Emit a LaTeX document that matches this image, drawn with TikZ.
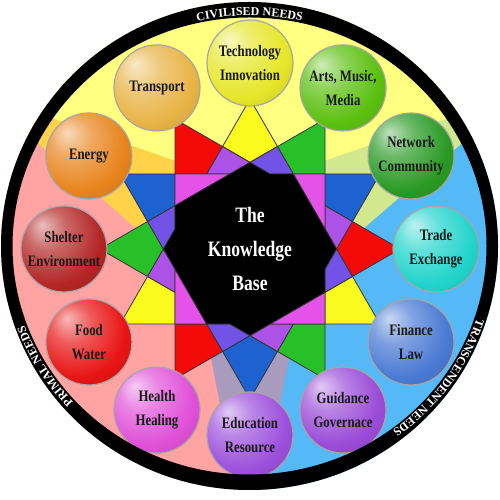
\documentclass[tikz,border=0pt]{standalone}
\usepackage{fontspec}
\setmainfont{Liberation Serif}
\newfontfamily\lblfont[FakeStretch=0.8]{Liberation Serif}
\newfontfamily\ringfont{Liberation Serif}
\usetikzlibrary{calc,decorations.text}
\definecolor{bgY}{HTML}{FFFF80}
\definecolor{bgB}{HTML}{55B9F8}
\definecolor{bgP}{HTML}{FFA3A3}
\definecolor{beamG}{HTML}{D2E88E}
\definecolor{beamO}{HTML}{FFD24A}
\definecolor{beamV}{HTML}{A99BBD}
\definecolor{tY}{HTML}{FAFA1E}
\definecolor{tG}{HTML}{28C028}
\definecolor{tB}{HTML}{1E62D0}
\definecolor{tR}{HTML}{F50A0A}
\definecolor{kP}{HTML}{AD52E6}
\definecolor{kM}{HTML}{E552EA}
\definecolor{kV}{HTML}{7352E8}
\definecolor{ballTech}{HTML}{E6E62A}
\definecolor{ballArts}{HTML}{5CC010}
\definecolor{ballNet}{HTML}{2A9A24}
\definecolor{ballTrade}{HTML}{22D4CC}
\definecolor{ballFin}{HTML}{4A7AD4}
\definecolor{ballGuid}{HTML}{9A4CD8}
\definecolor{ballEdu}{HTML}{9C50DC}
\definecolor{ballHealth}{HTML}{E050D8}
\definecolor{ballFood}{HTML}{E81414}
\definecolor{ballShelter}{HTML}{B42626}
\definecolor{ballEnergy}{HTML}{E8841C}
\definecolor{ballTrans}{HTML}{E8B446}
\colorlet{ballc}{red}
\pgfdeclareradialshading[ballc]{sphere}{\pgfpoint{-13bp}{14bp}}{color(0bp)=(ballc!30!white); color(12bp)=(ballc!70!white); color(28bp)=(ballc); color(46bp)=(ballc!82!black); color(60bp)=(ballc!72!black)}
\begin{document}
\begin{tikzpicture}[x=1pt,y=1pt,
  cell/.style={draw=black!80,line width=0.8pt,line join=round},
  ball/.style={circle,minimum size=86pt,inner sep=0pt,draw=black!35,line width=1.2pt,shade,shading=sphere,align=center,font=\lblfont\bfseries\fontsize{16}{24}\selectfont,text=black!90},
  bc/.code={\colorlet{ballc}{#1}}]
\useasboundingbox (0,0) rectangle (500,500);
\fill[white] (0,0) rectangle (500,500);
\coordinate (C) at (250,251);
\coordinate (R) at (249.5,254);
% background sectors and beams
\begin{scope}
\clip (R) ellipse (248.5 and 244);
\begin{scope}[shift={(C)}]
\fill[bgY] (0,0) -- (30:300) arc[start angle=30,end angle=150,radius=300] -- cycle;
\fill[bgP] (0,0) -- (150:300) arc[start angle=150,end angle=270,radius=300] -- cycle;
\fill[bgB] (0,0) -- (270:300) arc[start angle=270,end angle=390,radius=300] -- cycle;
\foreach \t/\c in {30/beamG,150/beamO,270/beamV}
  \fill[\c] ({\t+90}:60) -- ({\t+2.6}:252) -- ({\t-2.6}:252) -- ({\t-90}:60) -- cycle;
\end{scope}
\end{scope}
% star
\begin{scope}[shift={(C)}]
\foreach \t/\c in {0/tR,30/tB,60/tG,90/tY,120/tR,150/tB,180/tG,210/tY,240/tR,270/tB,300/tG,330/tY}
  \filldraw[cell,fill=\c] (\t:150) -- ({\t-15}:106.07) -- (\t:86.6) -- ({\t+15}:106.07) -- cycle;
\foreach \t/\c in {15/kP,105/kP,195/kP,285/kP,75/kV,165/kV,255/kV,345/kV}
  \filldraw[cell,fill=\c] (\t:77.63) -- ({\t-15}:86.6) -- (\t:106.07) -- ({\t+15}:86.6) -- cycle;
\foreach \t in {30,120,210,300}
  \filldraw[cell,fill=kM] ({\t-15}:77.63) -- ({\t+15}:106.07) -- ({\t+30}:86.6) -- cycle;
\filldraw[cell,fill=black] (90:86.6) -- (150:86.6) -- (165:77.63) -- (180:86.6) -- (240:86.6) -- (255:77.63) -- (270:86.6) -- (330:86.6) -- (345:77.63) -- (0:86.6) -- (60:86.6) -- (75:77.63) -- cycle;
\node[text=white,align=center,font=\lblfont\bfseries\fontsize{22}{34}\selectfont] (kb) at (0,0) {The\\Knowledge\\Base};
% balls
\node[ball,bc=ballTech] (tech) at (90:186) {Technology\\Innovation};
\node[ball,bc=ballArts] (arts) at (60:186) {Arts, Music,\\Media};
\node[ball,bc=ballNet] (net) at (30:186) {Network\\Community};
\node[ball,bc=ballTrade] (trade) at (0:186) {Trade\\Exchange};
\node[ball,bc=ballFin] (fin) at (-30:186) {Finance\\Law};
\node[ball,bc=ballGuid] (guid) at (-60:186) {Guidance\\Governace};
\node[ball,bc=ballEdu] (edu) at (-90:186) {Education\\Resource};
\node[ball,bc=ballHealth] (health) at (-120:186) {Health\\Healing};
\node[ball,bc=ballFood] (food) at (-150:186) {Food\\Water};
\node[ball,bc=ballShelter] (shelter) at (180:186) {Shelter\\Environment};
\node[ball,bc=ballEnergy] (energy) at (150:186) {Energy};
\node[ball,bc=ballTrans] (trans) at (120:186) {Transport};
\end{scope}
% ring
\fill[black,even odd rule] (R) ellipse (248.5 and 244) (R) ellipse (237 and 228.5);
\path[decorate,decoration={text along path,text align=center,text={|\ringfont\bfseries\fontsize{12}{12}\selectfont\color{white}|CIVILISED NEEDS}}] (R) ++(130:239.5 and 230.5) arc[start angle=130,end angle=50,x radius=239.5,y radius=230.5];
\path[decorate,decoration={text along path,text align=center,text={|\ringfont\bfseries\fontsize{12}{12}\selectfont\color{white}|TRANSCENDENT NEEDS}}] (R) ++(5:239.5 and 230.5) arc[start angle=5,end angle=-76,x radius=239.5,y radius=230.5];
\path[decorate,decoration={text along path,text align=center,text={|\ringfont\bfseries\fontsize{12}{12}\selectfont\color{white}|PRIMAL NEEDS}}] (R) ++(251:239.5 and 230.5) arc[start angle=251,end angle=171,x radius=239.5,y radius=230.5];
\end{tikzpicture}
\end{document}
